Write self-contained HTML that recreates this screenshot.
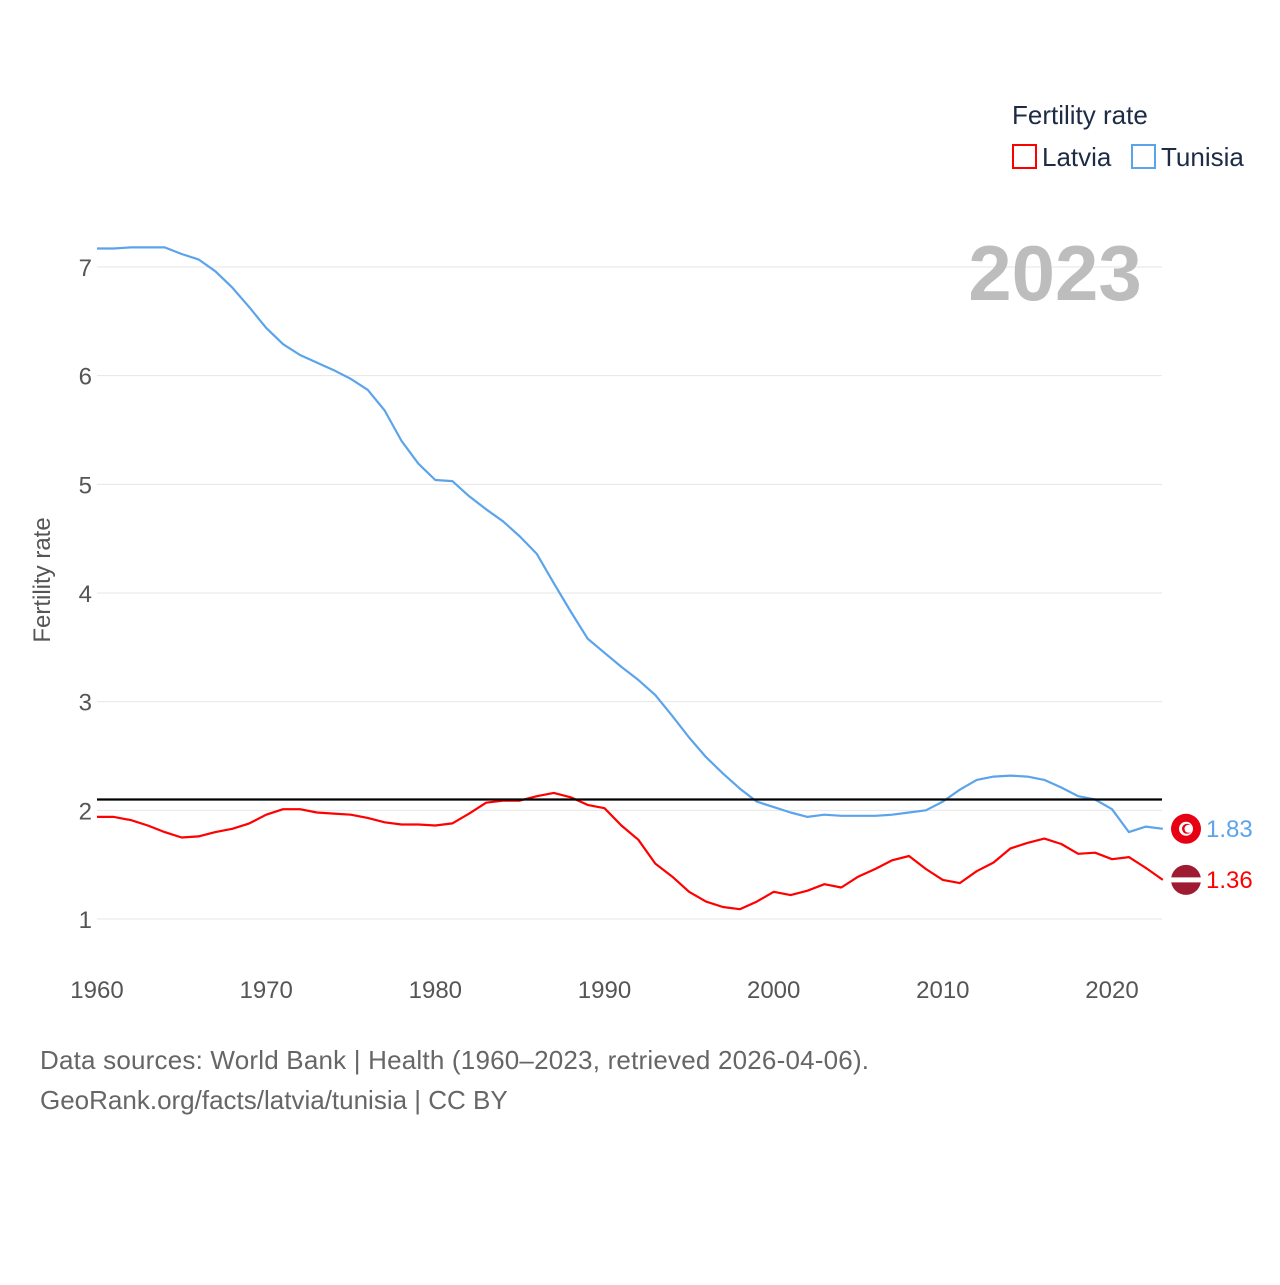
<!DOCTYPE html>
<html><head><meta charset="utf-8">
<style>
html,body{margin:0;padding:0;background:#fff;}
body{width:1280px;height:1280px;overflow:hidden;font-family:"Liberation Sans",sans-serif;}
</style></head>
<body>
<svg id="chart" width="1280" height="1280" xmlns="http://www.w3.org/2000/svg">
  <g id="grid"></g>
  <g id="yticks"></g>
  <g id="xticks"></g>
  <text x="1055" y="300" font-size="78" font-weight="bold" fill="#bdbdbd" text-anchor="middle">2023</text>
  <text transform="translate(50,580) rotate(-90)" font-size="24" fill="#555" text-anchor="middle">Fertility rate</text>
  <text x="1012" y="124" font-size="26" fill="#1d2b45">Fertility rate</text>
  <g>
    <rect x="1013" y="145" width="23" height="23" fill="none" stroke="#ff0000" stroke-width="2"/>
    <text x="1042" y="166" font-size="26" fill="#1d2b45">Latvia</text>
  </g>
  <g>
    <rect x="1132" y="145" width="23" height="23" fill="none" stroke="#5ba4ec" stroke-width="2"/>
    <text x="1161" y="166" font-size="26" fill="#1d2b45">Tunisia</text>
  </g>
  <g id="series"></g>
  <g id="endlabels"></g>
  <text x="40" y="1069" font-size="26" letter-spacing="0.2" fill="#666">Data sources: World Bank | Health (1960–2023, retrieved 2026-04-06).</text>
  <text x="40" y="1109" font-size="26" fill="#666">GeoRank.org/facts/latvia/tunisia | CC BY</text>
</svg>
<script>
const years = [];
for (let y = 1960; y <= 2023; y++) years.push(y);
const tunisia = [7.17,7.17,7.18,7.18,7.18,7.12,7.07,6.96,6.81,6.63,6.44,6.29,6.19,6.12,6.05,5.97,5.87,5.68,5.40,5.19,5.04,5.03,4.89,4.77,4.66,4.52,4.36,4.09,3.83,3.58,3.45,3.32,3.20,3.06,2.87,2.67,2.49,2.34,2.20,2.08,2.03,1.98,1.94,1.96,1.95,1.95,1.95,1.96,1.98,2.00,2.08,2.19,2.28,2.31,2.32,2.31,2.28,2.21,2.13,2.10,2.01,1.80,1.85,1.83];
const latvia = [1.94,1.94,1.91,1.86,1.80,1.75,1.76,1.80,1.83,1.88,1.96,2.01,2.01,1.98,1.97,1.96,1.93,1.89,1.87,1.87,1.86,1.88,1.97,2.07,2.09,2.09,2.13,2.16,2.12,2.05,2.02,1.86,1.73,1.51,1.39,1.25,1.16,1.11,1.09,1.16,1.25,1.22,1.26,1.32,1.29,1.39,1.46,1.54,1.58,1.46,1.36,1.33,1.44,1.52,1.65,1.70,1.74,1.69,1.60,1.61,1.55,1.57,1.47,1.36];
const yTicks = [1,2,3,4,5,6,7];
const xTicks = [1960,1970,1980,1990,2000,2010,2020];
const replacement = [2.1];

const NS = "http://www.w3.org/2000/svg";
const X = yr => 97 + (yr - 1960) * (1015 / 60);
const Y = v => 919 - (v - 1) * (652 / 6);
function mk(tag, attrs, parent) {
  const e = document.createElementNS(NS, tag);
  for (const k in attrs) e.setAttribute(k, attrs[k]);
  parent.appendChild(e); return e;
}
const grid = document.getElementById('grid');
const yt = document.getElementById('yticks');
yTicks.forEach(v => {
  const l = mk('line', {x1: 97, x2: 1162, y1: Y(v), y2: Y(v), stroke: '#e6e6e6', 'stroke-width': 1}, grid);
  
  
  const t = mk('text', {x: 92, y: Y(v) + 9, 'font-size': 24, fill: '#555', 'text-anchor': 'end'}, yt);
  t.textContent = v;
  
  
});
const xt = document.getElementById('xticks');
xTicks.forEach(yr => {
  const t = mk('text', {x: X(yr), y: 998, 'font-size': 24, fill: '#555', 'text-anchor': 'middle'}, xt);
  t.textContent = yr;
  
  
});
const s = document.getElementById('series');
function path(vals) { return vals.map((v, i) => (i ? 'L' : 'M') + X(years[i]).toFixed(1) + ',' + Y(v).toFixed(1)).join(''); }
const pt = mk('path', {d: path(tunisia), fill: 'none', stroke: '#5ba4ec', 'stroke-width': 2.2, 'stroke-linejoin': 'round'}, s);


const pl = mk('path', {d: path(latvia), fill: 'none', stroke: '#ff0000', 'stroke-width': 2.2, 'stroke-linejoin': 'round'}, s);


replacement.forEach(v => {
  const r = mk('line', {x1: 97, x2: 1162, y1: Y(v), y2: Y(v), stroke: '#000', 'stroke-width': 2.2}, s);
  
  
});
const el = document.getElementById('endlabels');
const tv = tunisia[tunisia.length - 1], lv = latvia[latvia.length - 1];
const tf = mk('g', {}, el);


mk('circle', {cx: 1186, cy: Y(tv), r: 15, fill: '#e70013'}, tf);
mk('circle', {cx: 1186, cy: Y(tv), r: 7, fill: '#fff'}, tf);
mk('circle', {cx: 1187, cy: Y(tv), r: 5, fill: '#e70013'}, tf);
mk('circle', {cx: 1188.5, cy: Y(tv), r: 4, fill: '#fff'}, tf);
const tl = mk('text', {x: 1206, y: Y(tv) + 8, 'font-size': 24, fill: '#5ba4ec'}, el);
tl.textContent = tv.toFixed(2);


const lf = mk('g', {}, el);


const ly = Y(lv);
mk('circle', {cx: 1186, cy: ly, r: 15, fill: '#9e1b32'}, lf);
mk('rect', {x: 1171, y: ly - 2.5, width: 30, height: 5, fill: '#fff'}, lf);
const ll = mk('text', {x: 1206, y: ly + 8, 'font-size': 24, fill: '#ff0000'}, el);
ll.textContent = lv.toFixed(2);


</script>
</body></html>
